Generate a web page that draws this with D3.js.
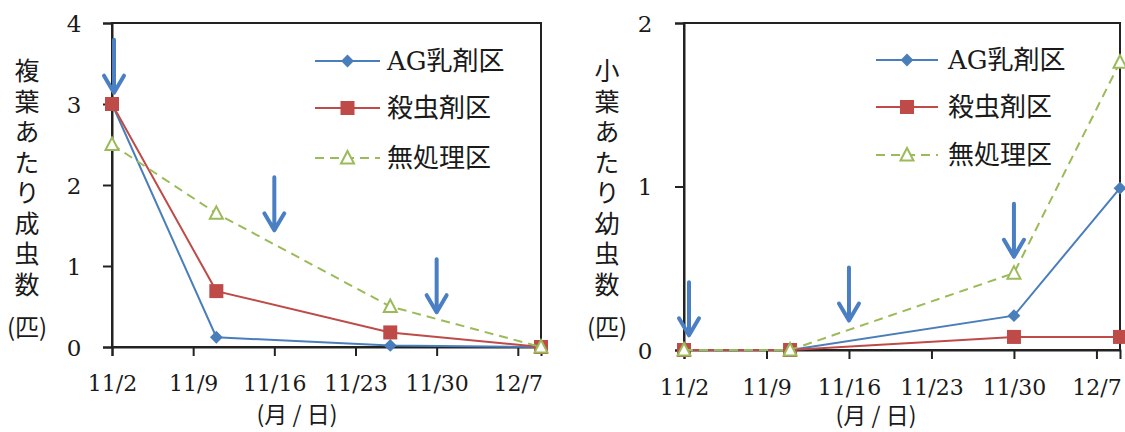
<!DOCTYPE html>
<html><head><meta charset="utf-8">
<script src="https://cdn.jsdelivr.net/npm/d3@7"></script>
<style>body{margin:0;background:#fff} svg{display:block}</style>
</head><body>
<svg id="c" width="1125" height="432"></svg>
<script>
// ---- data ----
const seriesNames = ["AG乳剤区", "殺虫剤区", "無処理区"];
const leftDates = ["11/2", "11/11", "11/26", "12/9"];
const leftAG = [3.0, 0.12, 0.02, 0.0];
const leftInsecticide = [3.0, 0.69, 0.18, 0.0];
const leftUntreated = [2.5, 1.65, 0.5, 0.0];
const rightDates = ["11/2", "11/11", "11/30", "12/9"];
const rightAG = [0, 0, 0.21, 0.99];
const rightInsecticide = [0, 0, 0.08, 0.08];
const rightUntreated = [0, 0, 0.47, 1.76];
const xTickLabels = ["11/2", "11/9", "11/16", "11/23", "11/30", "12/7"];
const xDomain = ["11/2", "12/9"];
const leftYTicks = [0, 1, 2, 3, 4];
const rightYTicks = [0, 1, 2];
const leftArrowDates = ["11/2", "11/16", "11/30"];
const leftArrowTips = [3.14, 1.44, 0.43];
const rightArrowDates = ["11/2", "11/16", "11/30"];
const rightArrowTips = [0.09, 0.18, 0.57];
const leftYTitle = "複葉あたり成虫数";
const rightYTitle = "小葉あたり幼虫数";
const yUnit = "(匹)";
const xTitle = "(月 / 日)";

// ---- style ----
const colors = ["#4a7ebb", "#be4b48", "#9bbb59"];
const arrowColor = "#4a7fc4";
const serif = "'DejaVu Serif','Noto Sans CJK JP',serif";
const legFont = "'DejaVu Serif','Noto Sans CJK JP',serif";
const cjk = "'Noto Sans CJK JP',sans-serif";
const parseD = s => { const [m, d] = s.split("/").map(Number); return new Date(2014, m - 1, d); };

const svg = d3.select("#c");

const panels = [
  { x0: 112, x1: 541, y0: 23, y1: 347, ymax: 4, yTicks: leftYTicks, dates: leftDates,
    series: [leftAG, leftInsecticide, leftUntreated], arrowDates: leftArrowDates, arrowTips: leftArrowTips,
    yTitle: leftYTitle, yTitleX: 27, yLabelX: 74, xLabelDy: 36, xTitleX: 297, xTitleY: 413,
    leg: { l0: 315, l1: 380, tx: 387, rows: [61, 108, 158] }, arrowShift: 2 },
  { x0: 684, x1: 1120, y0: 23, y1: 350, ymax: 2, yTicks: rightYTicks, dates: rightDates,
    series: [rightAG, rightInsecticide, rightUntreated], arrowDates: rightArrowDates, arrowTips: rightArrowTips,
    yTitle: rightYTitle, yTitleX: 607, yLabelX: 645, xLabelDy: 37, xTitleX: 876, xTitleY: 414,
    leg: { l0: 876, l1: 938, tx: 948, rows: [60, 107, 155] }, arrowShift: 5 }
];

function marker(g, type, x, y, color) {
  if (type === 0) {
    g.append("path").attr("d", d3.symbol(d3.symbolDiamond2, 105)())
      .attr("transform", `translate(${x},${y})`).attr("fill", color);
  } else if (type === 1) {
    g.append("rect").attr("x", x - 7).attr("y", y - 7).attr("width", 14).attr("height", 14).attr("fill", color);
  } else {
    g.append("path").attr("d", `M${x},${y - 7}L${x + 6.5},${y + 5.5}L${x - 6.5},${y + 5.5}Z`)
      .attr("fill", "#fff").attr("stroke", color).attr("stroke-width", 2);
  }
}

panels.forEach(p => {
  const g = svg.append("g");
  const x = d3.scaleTime().domain(xDomain.map(parseD)).range([p.x0, p.x1]);
  const y = d3.scaleLinear().domain([0, p.ymax]).range([p.y1, p.y0]);

  // frame
  g.append("rect").attr("x", p.x0).attr("y", p.y0).attr("width", p.x1 - p.x0).attr("height", p.y1 - p.y0)
    .attr("fill", "none").attr("stroke", "#222").attr("stroke-width", 2);

  // x axis
  const xa = g.append("g").attr("transform", `translate(0,${p.y1})`)
    .call(d3.axisBottom(x).tickValues(xTickLabels.map(parseD)).tickSize(9).tickFormat(d3.timeFormat("%-m/%-d")));
  xa.select(".domain").attr("stroke", "#222").attr("stroke-width", 2);
  xa.selectAll(".tick line").attr("stroke", "#222").attr("stroke-width", 2);
  xa.selectAll(".tick text").attr("y", p.xLabelDy).attr("dy", "0.35em")
    .attr("font-family", serif).attr("font-size", 22).attr("fill", "#1a1a1a");

  // y axis
  const ya = g.append("g").attr("transform", `translate(${p.x0},0)`)
    .call(d3.axisLeft(y).tickValues(p.yTicks).tickSize(9).tickFormat(d3.format("d")));
  ya.select(".domain").attr("stroke", "#222").attr("stroke-width", 2);
  ya.selectAll(".tick line").attr("stroke", "#222").attr("stroke-width", 2);
  ya.selectAll(".tick text").attr("x", p.yLabelX - p.x0).attr("text-anchor", "middle").attr("dy", "0.35em")
    .attr("font-family", serif).attr("font-size", 23).attr("fill", "#1a1a1a");

  // y title (vertical)
  g.append("text").attr("x", p.yTitleX).attr("y", 58)
    .style("writing-mode", "vertical-rl").style("text-orientation", "upright")
    .attr("font-family", cjk).attr("font-size", 25).attr("letter-spacing", 5.5)
    .attr("fill", "#1a1a1a").text(p.yTitle);
  g.append("text").attr("x", p.yTitleX).attr("y", 325).attr("text-anchor", "middle")
    .attr("dominant-baseline", "central").attr("font-family", cjk).attr("font-size", 24)
    .attr("fill", "#1a1a1a").text(yUnit);

  // x title
  g.append("text").attr("x", p.xTitleX).attr("y", p.xTitleY).attr("text-anchor", "middle")
    .attr("dominant-baseline", "central").attr("font-family", cjk).attr("font-size", 23)
    .attr("fill", "#1a1a1a").text(xTitle);

  // series
  p.series.forEach((vals, si) => {
    const pts = vals.map((v, i) => [x(parseD(p.dates[i])), y(v)]);
    g.append("path").attr("d", d3.line()(pts)).attr("fill", "none").attr("stroke", colors[si])
      .attr("stroke-width", 2).attr("stroke-dasharray", si === 2 ? "9,6" : null);
    pts.forEach(pt => marker(g, si, pt[0], pt[1], colors[si]));
  });

  // arrows
  p.arrowDates.forEach((d, i) => {
    const ax = x(parseD(d)) + (i === 0 ? p.arrowShift : 0);
    const ty = y(p.arrowTips[i]);
    g.append("path").attr("d", `M${ax},${ty - 53}L${ax},${ty}M${ax - 10},${ty - 17}L${ax},${ty}L${ax + 10},${ty - 17}`)
      .attr("fill", "none").attr("stroke", arrowColor).attr("stroke-width", 4)
      .attr("stroke-linejoin", "round").attr("stroke-linecap", "round");
  });

  // legend
  seriesNames.forEach((name, si) => {
    const ry = p.leg.rows[si];
    g.append("line").attr("x1", p.leg.l0).attr("x2", p.leg.l1).attr("y1", ry).attr("y2", ry)
      .attr("stroke", colors[si]).attr("stroke-width", 2).attr("stroke-dasharray", si === 2 ? "9,6" : null);
    marker(g, si, (p.leg.l0 + p.leg.l1) / 2, ry, colors[si]);
    g.append("text").attr("x", p.leg.tx).attr("y", ry).attr("dominant-baseline", "central")
      .attr("font-family", legFont).attr("font-size", 26).attr("fill", "#1a1a1a").text(name);
  });
});
</script>
</body></html>
